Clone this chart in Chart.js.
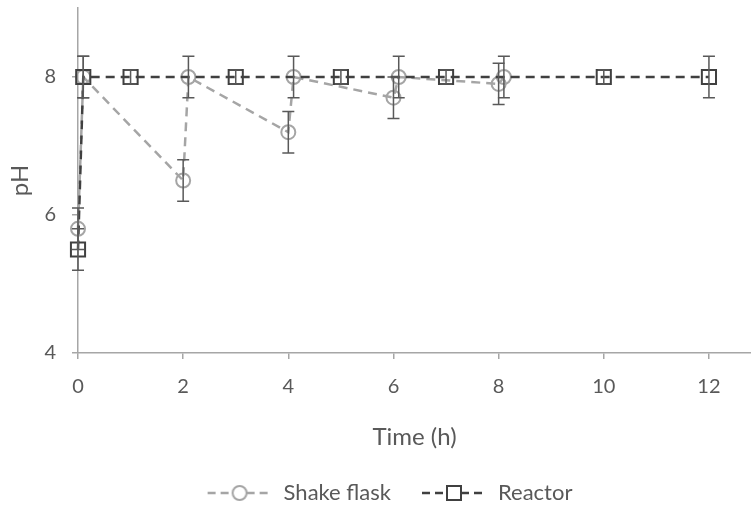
<!DOCTYPE html>
<html>
<head>
<meta charset="utf-8">
<script src="https://cdn.jsdelivr.net/npm/chart.js@4.4.0/dist/chart.umd.min.js"></script>
<style>
  html, body { margin: 0; padding: 0; background: #fff; }
</style>
</head>
<body>
<canvas id="phChart" width="751" height="511"></canvas>
<script>
// data
const shakeTime = [0, 0.1, 2, 2.1, 4, 4.1, 6, 6.1, 8, 8.1];
const shakePH = [5.8, 8, 6.5, 8, 7.2, 8, 7.7, 8, 7.9, 8];
const shakeErr = [0.3, 0.3, 0.3, 0.3, 0.3, 0.3, 0.3, 0.3, 0.3, 0.3];

const reactorTime = [0, 0.1, 1, 3, 5, 7, 10, 12];
const reactorPH = [5.5, 8, 8, 8, 8, 8, 8, 8];
const reactorErr = [0.3, 0.3, 0.1, 0.1, 0.1, 0.1, 0.1, 0.3];

const xTicks = [0, 2, 4, 6, 8, 10, 12];
const yTicks = [4, 6, 8];

const FONT = 'Lato';
const TEXT = '#595959';
const AXIS = '#a6a6a6';

function toPoints(xs, ys) {
    return xs.map((x, k) => ({ x: x, y: ys[k] }));
}

// little picture for the legend: dashed line with the marker in the middle
function legendSymbol(color, shape) {
    const c = document.createElement('canvas');
    c.width = 66; c.height = 18;
    const g = c.getContext('2d');
    g.strokeStyle = color;
    g.lineWidth = 2.5;
    g.setLineDash([8, 5]);
    g.beginPath(); g.moveTo(1, 9); g.lineTo(66, 9); g.stroke();
    g.setLineDash([]);
    g.fillStyle = '#fff';
    g.lineWidth = 2;
    g.beginPath();
    if (shape === 'circle') g.arc(33, 9, 7, 0, Math.PI * 2);
    else g.rect(26, 2, 14, 14);
    g.fill(); g.stroke();
    return c;
}

const errorBars = {
    id: 'errorBars',
    afterDatasetsDraw(chart) {
        const ctx = chart.ctx;
        const xs = chart.scales.x, ys = chart.scales.y;
        ctx.save();
        ctx.strokeStyle = '#595959';
        ctx.lineWidth = 1.5;
        chart.data.datasets.forEach((ds) => {
            ds.data.forEach((p, k) => {
                const e = ds.errors[k];
                const px = xs.getPixelForValue(p.x);
                const top = ys.getPixelForValue(p.y + e);
                const bot = ys.getPixelForValue(p.y - e);
                ctx.beginPath();
                ctx.moveTo(px, top); ctx.lineTo(px, bot);
                ctx.moveTo(px - 6, top); ctx.lineTo(px + 6, top);
                ctx.moveTo(px - 6, bot); ctx.lineTo(px + 6, bot);
                ctx.stroke();
            });
        });
        ctx.restore();
    }
};

// the legend sits a bit right of centre and a bit lower in the original
const nudgeLegend = {
    id: 'nudgeLegend',
    afterLayout(chart) {
        const lg = chart.legend;
        lg.left += 14; lg.right += 14;
        lg.top += 3; lg.bottom += 3;
    }
};

const ctx = document.getElementById('phChart').getContext('2d');
const chart = new Chart(ctx, {
    type: 'line',
    data: {
        datasets: [{
            label: 'Shake flask',
            data: toPoints(shakeTime, shakePH),
            errors: shakeErr,
            borderColor: '#a5a5a5',
            borderWidth: 2.5,
            borderDash: [9, 6],
            pointStyle: 'circle',
            pointRadius: 7,
            pointBorderWidth: 2,
            pointBorderColor: '#a5a5a5',
            pointBackgroundColor: 'rgba(0,0,0,0)',
            clip: false,
            order: 2,
            legendImg: legendSymbol('#a5a5a5', 'circle')
        }, {
            label: 'Reactor',
            data: toPoints(reactorTime, reactorPH),
            errors: reactorErr,
            borderColor: '#404040',
            borderWidth: 2.5,
            borderDash: [9, 6],
            pointStyle: 'rect',
            pointRadius: 10,
            pointBorderWidth: 2,
            pointBorderColor: '#404040',
            pointBackgroundColor: 'rgba(0,0,0,0)',
            clip: false,
            order: 1,
            legendImg: legendSymbol('#404040', 'rect')
        }]
    },
    options: {
        responsive: false,
        animation: false,
        layout: { autoPadding: false, padding: { top: 8, right: 0, left: 0, bottom: 0 } },
        scales: {
            x: {
                type: 'linear',
                min: 0,
                max: 12.8,
                afterBuildTicks: (s) => { s.ticks = xTicks.map(v => ({ value: v })); },
                afterFit: (s) => { s.height = 96; s.paddingLeft = 0; s.paddingRight = 0; },
                border: { color: AXIS, width: 1.5 },
                grid: { drawOnChartArea: false, drawTicks: true, tickLength: 6, color: AXIS, lineWidth: 1.5 },
                ticks: { color: TEXT, font: { family: FONT, size: 20 }, padding: 16, maxRotation: 0 },
                title: { display: true, text: 'Time (h)', color: TEXT, font: { family: FONT, size: 24, lineHeight: 1 }, padding: { top: 0, bottom: 0 } }
            },
            y: {
                type: 'linear',
                min: 4,
                max: 9,
                afterBuildTicks: (s) => { s.ticks = yTicks.map(v => ({ value: v })); },
                afterFit: (s) => { s.width = 78; s.paddingTop = 0; s.paddingBottom = 0; },
                border: { color: AXIS, width: 1.5 },
                grid: { drawOnChartArea: false, drawTicks: true, tickLength: 6, color: AXIS, lineWidth: 1.5 },
                ticks: { color: TEXT, font: { family: FONT, size: 20 }, padding: 16 },
                title: { display: true, text: 'pH', color: TEXT, font: { family: FONT, size: 24, lineHeight: 1 }, padding: { top: 8, bottom: 0 } }
            }
        },
        plugins: {
            tooltip: { enabled: false },
            legend: {
                position: 'bottom',
                labels: {
                    usePointStyle: true,
                    pointStyleWidth: 66,
                    padding: 30,
                    color: TEXT,
                    font: { family: FONT, size: 22 },
                    generateLabels: (c) => c.data.datasets.map((ds, k) => ({
                        text: ds.label,
                        pointStyle: ds.legendImg,
                        fontColor: TEXT,
                        strokeStyle: ds.borderColor,
                        fillStyle: '#fff',
                        lineWidth: 0,
                        hidden: false,
                        datasetIndex: k
                    }))
                }
            }
        }
    },
    plugins: [errorBars, nudgeLegend]
});
</script>
</body>
</html>
